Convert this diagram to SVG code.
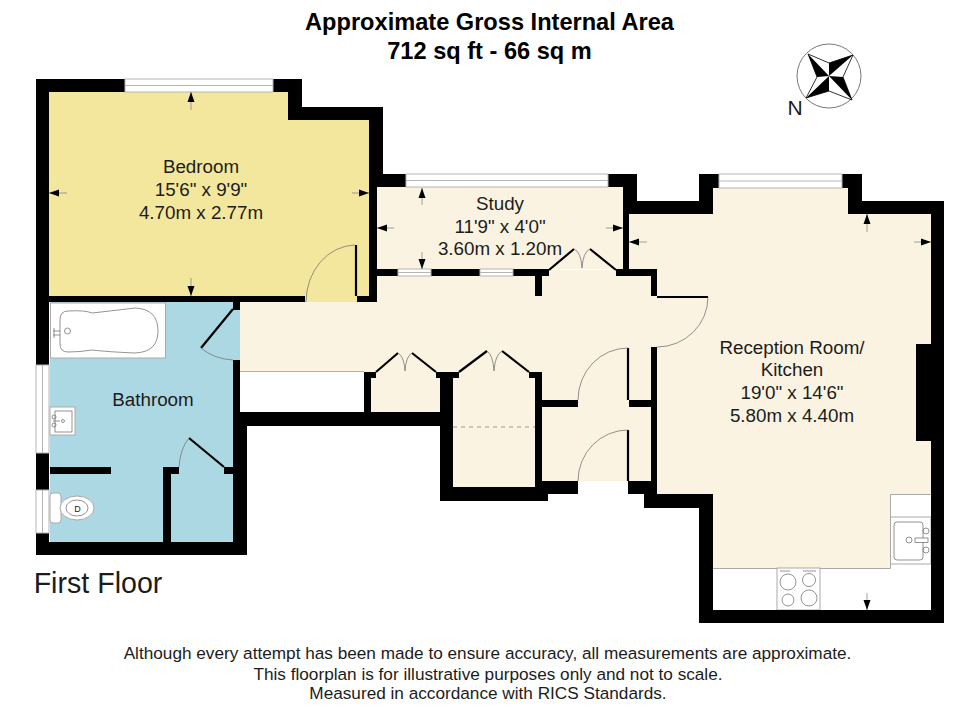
<svg xmlns="http://www.w3.org/2000/svg" width="980" height="723" viewBox="0 0 980 723">
<style>
text{font-family:"Liberation Sans",Arial,sans-serif;fill:#1c1c1c;text-anchor:middle}
.t{font-weight:bold;font-size:23.6px;fill:#000}
.r{font-size:18.8px}
.f{font-size:17.2px}
.w{fill:#000}
.bed{fill:#f3e79d}
.cream{fill:#faf3e1}
.blue{fill:#acd8e4}
.win{fill:#fff;stroke:#b5b5b5;stroke-width:1}
.leaf{stroke:#000;stroke-width:2.2;fill:none}
.arc{stroke:#777;stroke-width:.8;fill:none}
.fx{fill:#fff;stroke:#aaa;stroke-width:1}
.ln{fill:none;stroke:#666;stroke-width:.7}
.dim{stroke:#888;stroke-width:.8;marker-end:url(#ah)}
</style>
<defs>
<marker id="ah" markerUnits="userSpaceOnUse" markerWidth="11" markerHeight="9" refX="10" refY="4" orient="auto"><path d="M0 0.5L10 4L0 7.5Z" fill="#000"/></marker>
</defs>
<rect width="980" height="723" fill="#fff"/>
<g id="title">
<text class="t" x="489.500" y="30">Approximate Gross Internal Area</text>
<text class="t" x="489.500" y="59">712 sq ft - 66 sq m</text>
</g>
<g id="compass">
<circle cx="829" cy="76" r="32" fill="#fff" stroke="#777" stroke-width="1"/>
<path d="M808 54L829 63L853 55L843 77L852 100L829 91L806 98L817 77Z" fill="#fff" stroke="#000" stroke-width=".8"/>
<path d="M808 54L829 76L817 77ZM853 55L829 76L829 63ZM852 100L829 76L843 77ZM806 98L829 76L829 91Z" fill="#000"/>
<text x="795" y="115" style="font-size:21px">N</text>
</g>
<g id="bedroom">
<path class="bed" d="M49 92H288V120H369V296H357V302H305V296H49Z"/>
<text class="r" x="201" y="173">Bedroom</text>
<text class="r" x="201" y="196">15'6" x 9'9"</text>
<text class="r" x="201" y="219">4.70m x 2.77m</text>
</g>
<g id="study">
<rect class="cream" x="377" y="187" width="246" height="82"/>
<text class="r" x="500" y="210">Study</text>
<text class="r" x="500" y="233">11'9" x 4'0"</text>
<text class="r" x="500" y="255">3.60m x 1.20m</text>
</g>
<g id="hall">
<path class="cream" d="M240 302H376V270H657V372H240ZM371 372H440V412H371ZM453 372H535V487H453ZM535 372H651V481H535Z"/>
<path d="M240 371.500H364" stroke="#b5aea5" stroke-width="1"/>
<path d="M453 427H535" stroke="#777" stroke-width=".7" stroke-dasharray="4 4"/>
</g>
<g id="reception-kitchen">
<path class="cream" d="M629 214H713V188H848V214H931V494H890V568H713V494H657V276H629Z"/>
<path d="M713 568H890V494H931V610H713Z" fill="#fff"/>
<path d="M713 568.500H890.500V494.500H931" fill="none" stroke="#aaa" stroke-width="1"/>
<rect class="fx" x="890.500" y="517" width="40.500" height="47"/>
<rect class="ln" x="894" y="522" width="29" height="38" rx="3"/>
<g class="ln"><circle cx="909" cy="540" r="3"/><circle cx="926" cy="531" r="3"/><circle cx="926" cy="550" r="3"/><rect x="915" y="538" width="13" height="4.500" fill="#fff"/></g>
<rect class="fx" x="777" y="568" width="43" height="42"/>
<g class="ln"><circle cx="788" cy="582" r="8"/><circle cx="809" cy="580" r="6.500"/><circle cx="788" cy="600" r="6"/><circle cx="809" cy="598" r="8"/><path d="M780 571H790M803 571H816"/></g>
<text class="r" x="792" y="354">Reception Room/</text>
<text class="r" x="792" y="376">Kitchen</text>
<text class="r" x="792" y="399">19'0" x 14'6"</text>
<text class="r" x="792" y="422">5.80m x 4.40m</text>
</g>
<g id="bathroom">
<path class="blue" d="M50 302H233V310H240V360H233V467H233V542H50Z"/>
<rect class="fx" x="50.500" y="303" width="115" height="55" stroke-width="1.500"/>
<path class="ln" d="M60 320Q60 311 68 311Q85 310 92 313Q110 311 135 308Q158 309 158 331Q158 352 135 353Q110 352 92 350Q80 352 68 352Q60 352 60 344Z"/>
<path class="ln" d="M53 331H60M53 335H60M54 328V338"/><circle class="ln" cx="67.500" cy="331" r="3"/>
<rect class="fx" x="50" y="407" width="25" height="28"/>
<rect class="ln" x="55" y="411" width="17" height="21"/>
<g class="ln"><circle cx="54" cy="417" r="2"/><circle cx="54" cy="425" r="2"/><circle cx="63" cy="421" r="1.500"/><path d="M53 421H60"/></g>
<rect class="fx" x="50" y="493" width="11" height="30" rx="3"/>
<ellipse class="fx" cx="77" cy="508" rx="17" ry="12"/>
<ellipse class="ln" cx="77" cy="508" rx="11" ry="8"/>
<text x="77.500" y="512" style="font-size:9px">D</text>
<text class="r" x="153" y="406">Bathroom</text>
</g>
<g id="walls" class="w">
<path d="M36 79H125V92H49V296H305V302H240V310H233V302H49V365H36ZM273 79H302V107H383V174H406V187H377V296H357V302H377V296H369V120H288V92H273Z"/>
<path d="M36 453H49V490H36ZM36 533H49V542H233V474H224V467H233V412H233V360H240V412H440V378H436V372H459V378H453V487H535V378H529V372H542V481H578V494H548V501H440V426H247V555H36Z"/>
<path d="M364 372H376V378H371V412H364Z"/>
<rect x="377" y="269" width="21" height="7"/><rect x="431" y="269" width="49" height="7"/><rect x="513" y="269" width="36" height="7"/><rect x="535" y="276" width="7" height="20"/>
<path d="M608 174H637V201H699V174H719V188H713V214H629V269H657V296H651V276H616V269H623V187H608Z"/>
<path d="M842 174H862V201H944V623H699V508H644V494H628V481H651V347H657V494H713V610H931V441H916V344H931V214H848V188H842Z"/>
<rect x="541" y="400" width="37" height="7"/><rect x="629" y="400" width="22" height="7"/>
<rect x="50" y="467" width="61" height="7"/>
<rect x="163" y="467" width="8" height="75"/><rect x="163" y="467" width="16" height="7"/>
</g>
<g id="windows">
<rect class="win" x="125" y="79" width="148" height="13"/><path d="M125 85.500H273" stroke="#b5b5b5"/>
<rect class="win" x="406" y="174" width="202" height="13"/><path d="M406 180.500H608" stroke="#b5b5b5"/>
<rect class="win" x="719" y="174" width="123" height="14"/><path d="M719 181H842" stroke="#b5b5b5"/>
<rect class="win" x="398" y="269" width="33" height="7"/><path d="M398 272.500H431" stroke="#b5b5b5"/>
<rect class="win" x="480" y="269" width="33" height="7"/><path d="M480 272.500H513" stroke="#b5b5b5"/>
<rect class="win" x="36" y="365" width="13" height="88"/><path d="M42.500 365V453" stroke="#b5b5b5"/>
<rect class="win" x="36" y="490" width="13" height="43"/><path d="M42.500 490V533" stroke="#b5b5b5"/>
</g>
<g id="doors">
<path class="leaf" d="M356 245V296"/><path class="arc" d="M355 245A50 57 0 0 0 306 302"/>
<path class="leaf" d="M233 309L201 348"/><path class="arc" d="M201 348Q214 359 233 360"/>
<path class="leaf" d="M224 467L189 438"/><path class="arc" d="M189 438Q180 449 179 467"/>
<path class="leaf" d="M657 297H708"/><path class="arc" d="M708 297A51 50 0 0 1 657 347"/>
<path class="leaf" d="M628 348V400"/><path class="arc" d="M628 348A50 52 0 0 0 578 400"/>
<path class="leaf" d="M628 430V481"/><path class="arc" d="M628 430A50 51 0 0 0 578 481"/>
<path class="leaf" d="M549 270L574 249M590 249L616 270"/><path class="arc" d="M574 249Q581 252 582 268Q583 252 590 249"/>
<path class="leaf" d="M376 372L398 353M412 353L436 372"/><path class="arc" d="M398 353Q404 356 405 371Q406 356 412 353"/>
<path class="leaf" d="M459 372L487 351M502 351L529 372"/><path class="arc" d="M487 351Q493 355 494 371Q495 355 502 351"/>
</g>
<g id="connectors">
<path class="dim" d="M191 110V92"/><path class="dim" d="M191 278V296"/><path class="dim" d="M67 193H49"/><path class="dim" d="M352 193H369"/>
<path class="dim" d="M422 205V188"/><path class="dim" d="M422 252V269"/><path class="dim" d="M394 228H377"/><path class="dim" d="M606 228H623"/>
<path class="dim" d="M647 242H629"/><path class="dim" d="M914 242H931"/><path class="dim" d="M867 232V214"/><path class="dim" d="M867 593V610"/>
</g>
<g id="labels">
<text x="98" y="593" style="font-size:28.6px">First Floor</text>
<text class="f" x="487.500" y="659">Although every attempt has been made to ensure accuracy, all measurements are approximate.</text>
<text class="f" x="488" y="679.500">This floorplan is for illustrative purposes only and not to scale.</text>
<text class="f" x="488" y="699">Measured in accordance with RICS Standards.</text>
</g>
</svg>
